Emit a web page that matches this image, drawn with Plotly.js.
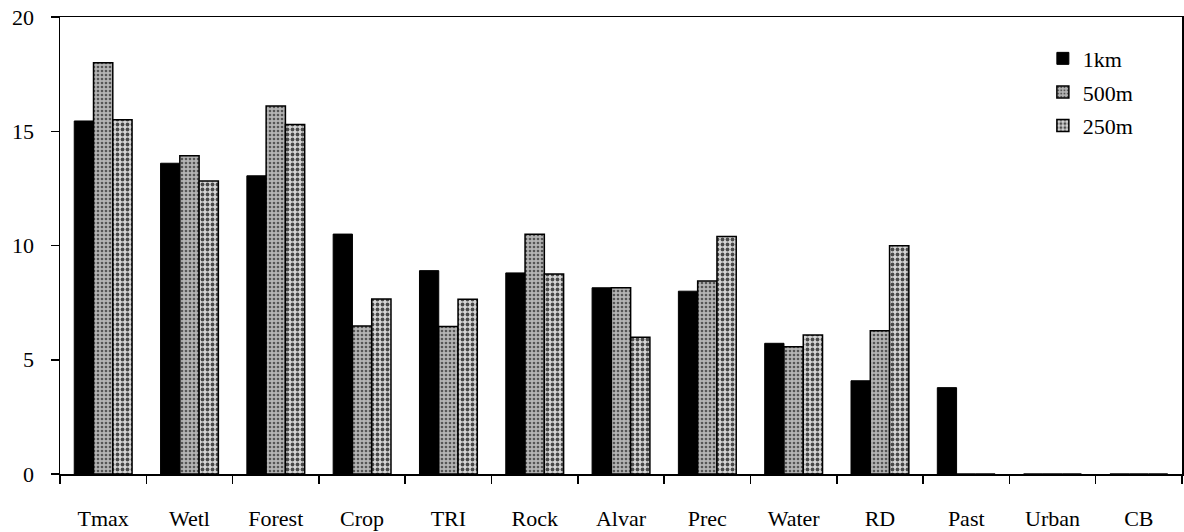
<!DOCTYPE html>
<html>
<head>
<meta charset="utf-8">
<script src="https://cdn.plot.ly/plotly-3.0.1.min.js"></script>
<style>html,body{margin:0;padding:0;background:#fff;}#chart{width:1184px;height:532px;}</style>
</head>
<body>
<div id="chart"></div>
<script>
const categories = ["Tmax","Wetl","Forest","Crop","TRI","Rock","Alvar","Prec","Water","RD","Past","Urban","CB"];
const seriesNames = ["1km","500m","250m"];
const values1km  = [15.45, 13.6, 13.05, 10.5, 8.9, 8.8, 8.15, 8.0, 5.72, 4.08, 3.78, 0, 0];
const values500m = [18.0, 13.93, 16.1, 6.48, 6.45, 10.49, 8.15, 8.45, 5.57, 6.27, 0, 0, 0];
const values250m = [15.5, 12.82, 15.29, 7.66, 7.65, 8.75, 5.98, 10.39, 6.08, 9.99, 0, 0, 0];

const font = "Liberation Serif, Times New Roman, serif";

const traces = [
  {type:'bar', name:seriesNames[0], x:categories, y:values1km, legendgroup:'a',
   marker:{color:'#000', line:{color:'#000', width:1}}},
  {type:'bar', name:seriesNames[1], x:categories, y:values500m, legendgroup:'b',
   marker:{color:'#9c9c9c', line:{color:'#000', width:1.5},
     pattern:{shape:'.', fgcolor:'#555', bgcolor:'#b4b4b4', size:4, solidity:0.35}}},
  {type:'bar', name:seriesNames[2], x:categories, y:values250m, legendgroup:'c',
   marker:{color:'#c8c8c8', line:{color:'#000', width:1.5},
     pattern:{shape:'.', fgcolor:'#4a4a4a', bgcolor:'#d6d6d6', size:5, solidity:0.45}}}
];

const layout = {
  width:1184, height:532,
  margin:{l:60, r:2, t:17, b:58},
  paper_bgcolor:'#fff', plot_bgcolor:'#fff',
  barmode:'group', bargap:0.33, bargroupgap:0,
  showlegend:true,
  font:{family:font, color:'#000', size:22},
  legend:{x:0.876, y:0.955, xanchor:'left', yanchor:'top', bgcolor:'rgba(0,0,0,0)',
    font:{family:font, size:22}, traceorder:'grouped', tracegroupgap:2,
    itemwidth:30},
  xaxis:{type:'category', showline:true, mirror:true, linecolor:'#000', linewidth:1.5,
    ticks:'outside', tickson:'boundaries', ticklen:8, tickcolor:'#000', tickwidth:1.5,
    showgrid:false, zeroline:false, ticklabelstandoff:24,
    tickfont:{family:font, size:22}},
  yaxis:{range:[0,20], dtick:5, showline:true, mirror:true, linecolor:'#000', linewidth:1.5,
    ticks:'outside', ticklen:8, tickcolor:'#000', tickwidth:1.5,
    showgrid:false, zeroline:false, ticklabelstandoff:12,
    tickfont:{family:font, size:22}}
};

Plotly.newPlot('chart', traces, layout, {displayModeBar:false, staticPlot:true});
</script>
</body>
</html>
